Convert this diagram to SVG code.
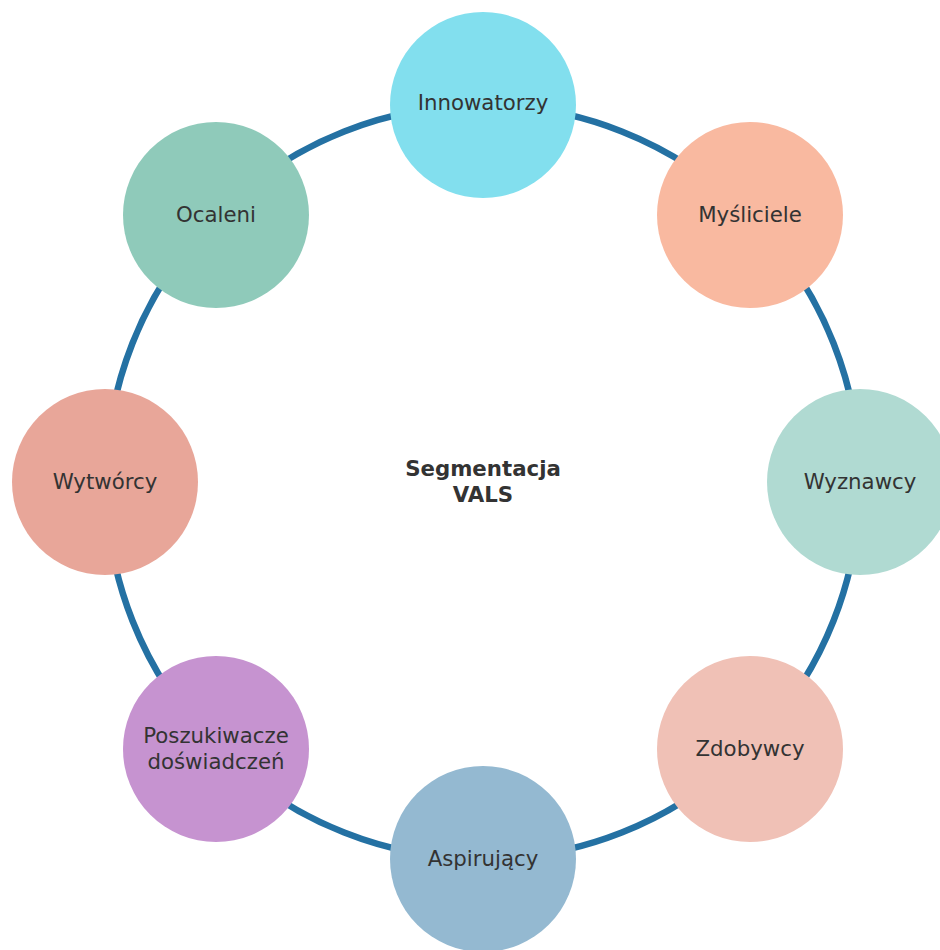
<svg xmlns="http://www.w3.org/2000/svg" width="940" height="950" viewBox="0 0 940 950">
  <style>
    .ring { fill: none; stroke: #2471a3; stroke-width: 6.5; }
    .node circle { stroke: none; }
    .label { font-family: "DejaVu Sans", sans-serif; font-size: 21.3px; fill: #333333; text-anchor: middle; }
    .title { font-family: "DejaVu Sans", sans-serif; font-size: 21.3px; font-weight: bold; fill: #333333; text-anchor: middle; }
  </style>
  <rect width="940" height="950" fill="#ffffff"/>
  <g id="connectors">
    <circle class="ring" cx="483" cy="482" r="377"/>
  </g>
  <g id="center">
    <text class="title" x="483" y="476">Segmentacja</text>
    <text class="title" x="483" y="502">VALS</text>
  </g>
  <g id="innowatorzy" class="node">
    <circle cx="483" cy="105" r="93" fill="#82dfee"/>
    <text class="label" x="483" y="110">Innowatorzy</text>
  </g>
  <g id="mysliciele" class="node">
    <circle cx="750" cy="215" r="93" fill="#f9b9a0"/>
    <text class="label" x="750" y="222">Myśliciele</text>
  </g>
  <g id="wyznawcy" class="node">
    <circle cx="860" cy="482" r="93" fill="#b0dad2"/>
    <text class="label" x="860" y="489">Wyznawcy</text>
  </g>
  <g id="zdobywcy" class="node">
    <circle cx="750" cy="749" r="93" fill="#f0c1b6"/>
    <text class="label" x="750" y="756">Zdobywcy</text>
  </g>
  <g id="aspirujacy" class="node">
    <circle cx="483" cy="859" r="93" fill="#94b9d1"/>
    <text class="label" x="483" y="866">Aspirujący</text>
  </g>
  <g id="poszukiwacze" class="node">
    <circle cx="216" cy="749" r="93" fill="#c693d0"/>
    <text class="label" x="216" y="743">Poszukiwacze</text>
    <text class="label" x="216" y="769">doświadczeń</text>
  </g>
  <g id="wytworcy" class="node">
    <circle cx="105" cy="482" r="93" fill="#e8a699"/>
    <text class="label" x="105" y="489">Wytwórcy</text>
  </g>
  <g id="ocaleni" class="node">
    <circle cx="216" cy="215" r="93" fill="#8fcaba"/>
    <text class="label" x="216" y="222">Ocaleni</text>
  </g>
</svg>
